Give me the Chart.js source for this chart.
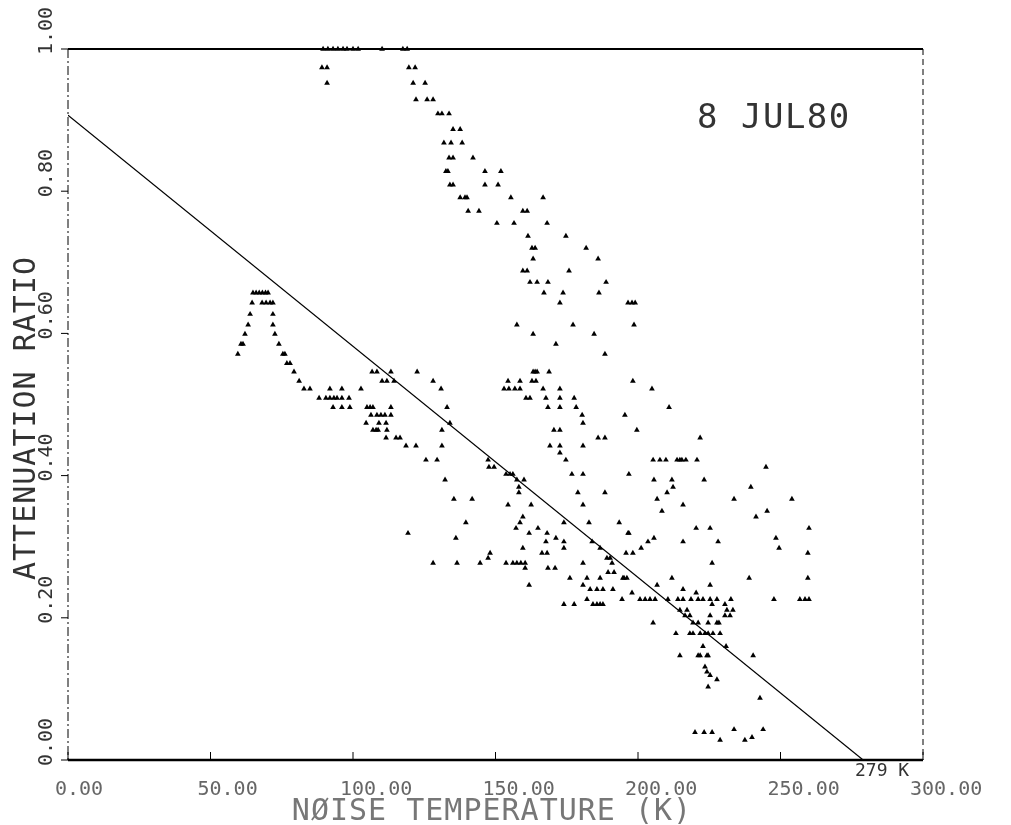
<!DOCTYPE html>
<html>
<head>
<meta charset="utf-8">
<script src="https://cdn.jsdelivr.net/npm/chart.js@4.4.1/dist/chart.umd.min.js"></script>
<style>
  body { margin: 0; background: #fff; }
  #wrap { width: 1011px; height: 825px; }
</style>
</head>
<body>
<div id="wrap"><canvas id="myChart" width="1011" height="825"></canvas></div>
<script>
// attenuation ratio levels and the noise temperatures (K) observed at each level
const ratioLevels = [
  1.000, 0.974, 0.952, 0.929, 0.909, 0.887, 0.868, 0.847, 0.828, 0.809,
  0.791, 0.772, 0.755, 0.737, 0.720, 0.705, 0.688, 0.672, 0.657, 0.643,
  0.627, 0.612, 0.599, 0.585, 0.571, 0.558, 0.546, 0.533, 0.522, 0.509,
  0.496, 0.485, 0.474, 0.464, 0.453, 0.442, 0.432, 0.422, 0.412, 0.402,
  0.394, 0.384, 0.376, 0.367, 0.359, 0.350, 0.342, 0.334, 0.326, 0.319,
  0.312, 0.307, 0.298, 0.291, 0.284, 0.277, 0.270, 0.264, 0.256, 0.246,
  0.240, 0.235, 0.226, 0.219, 0.211, 0.203, 0.193, 0.178, 0.160, 0.147,
  0.131, 0.124, 0.119, 0.113, 0.103, 0.087, 0.043, 0.039, 0.032, 0.028
];
const tempsByLevel = [
  [89.5, 91.2, 93.0, 94.7, 96.5, 97.9, 100.0, 101.8, 110.2, 117.5, 119.0],
  [89.1, 90.9, 119.6, 121.8],
  [90.9, 121.1, 125.3],
  [122.1, 126.0, 128.1],
  [129.8, 131.2, 133.7],
  [135.1, 137.6],
  [131.9, 134.4, 138.3],
  [133.7, 135.1, 142.1],
  [132.6, 133.3, 146.3, 151.9],
  [134.0, 135.1, 146.3, 150.9],
  [137.6, 139.3, 140.0, 155.4, 166.7],
  [140.4, 144.2, 159.6, 161.1],
  [150.5, 156.5, 168.1],
  [161.4, 174.7],
  [162.8, 163.9, 181.8],
  [163.2, 186.0],
  [159.6, 161.1, 175.8],
  [162.1, 164.6, 168.4, 188.8],
  [64.9, 66.0, 67.1, 68.2, 69.3, 70.2, 167.0, 173.7, 186.3],
  [64.6, 68.1, 69.5, 70.9, 71.9, 172.6, 196.5, 197.9, 199.0],
  [63.9, 71.9],
  [63.2, 71.9, 157.5, 177.2, 198.6],
  [62.1, 72.6, 163.2, 184.6],
  [60.7, 61.4, 74.0, 171.2],
  [59.6, 75.4, 76.1, 188.4],
  [76.8, 77.9],
  [79.3, 106.7, 108.4, 113.3, 122.5, 163.2, 163.9, 164.6, 168.8],
  [81.1, 110.2, 111.9, 114.4, 128.1, 154.4, 158.6, 162.8, 164.2, 198.2],
  [82.8, 84.9, 91.9, 96.1, 102.8, 130.9, 153.0, 154.7, 156.8, 158.6, 166.7, 172.6, 204.9],
  [88.1, 90.5, 91.9, 93.3, 94.4, 96.1, 98.6, 160.7, 162.1, 167.7, 172.6, 177.6],
  [93.0, 96.1, 98.9, 104.9, 106.0, 107.0, 113.3, 133.0, 168.4, 172.6, 178.3, 210.9],
  [106.3, 108.4, 109.8, 111.2, 113.3, 180.4, 195.4],
  [104.6, 109.1, 111.6, 134.0, 180.7],
  [107.0, 108.1, 108.8, 111.9, 131.2, 170.5, 172.6, 199.6],
  [111.6, 115.1, 116.5, 186.0, 188.4, 221.8],
  [118.6, 122.1, 131.2, 169.1, 172.6, 180.7],
  [172.6],
  [125.6, 129.5, 147.4, 174.7, 205.3, 207.7, 209.8, 213.7, 214.7, 215.4, 216.8, 220.7],
  [147.7, 149.5, 244.9],
  [153.7, 155.1, 156.1, 176.8, 180.7, 196.8],
  [132.3, 157.5, 160.0, 205.6, 211.9, 223.2],
  [158.2, 212.3, 239.6],
  [158.2, 178.9, 188.4, 210.2],
  [135.4, 141.8, 206.7, 233.7, 254.0],
  [154.4, 162.5, 180.7, 215.8],
  [208.4, 245.3],
  [159.6, 241.4],
  [139.6, 158.6, 174.0, 182.8, 193.4],
  [157.2, 164.9, 220.4, 225.3, 260.0],
  [119.3, 161.8, 168.1, 196.5, 196.8],
  [136.1, 171.2, 205.6, 248.4],
  [167.7, 174.0, 183.9, 203.5, 215.8, 228.1],
  [159.6, 174.0, 186.7, 201.1, 249.5],
  [148.1, 166.3, 168.1, 195.8, 198.2, 259.6],
  [147.4, 189.1, 190.2],
  [128.1, 136.5, 144.6, 153.7, 156.1, 157.5, 158.9, 160.4, 180.7, 190.9, 226.0],
  [160.4, 168.4, 170.9],
  [189.5, 191.6],
  [176.1, 182.1, 186.7, 194.7, 195.1, 196.1, 211.9, 239.0, 259.6],
  [161.8, 180.7, 206.7, 225.3],
  [183.2, 185.6, 187.7, 191.2, 215.8],
  [197.9, 220.4],
  [182.1, 194.4, 200.7, 202.5, 204.2, 206.0, 210.5, 214.0, 215.8, 218.6, 221.1, 222.8, 225.3, 227.7, 232.6, 247.7, 256.8, 258.6, 260.0],
  [174.0, 177.6, 184.2, 185.6, 186.7, 187.7, 226.0, 230.5],
  [214.7, 217.2, 231.2, 233.3],
  [216.5, 218.2, 225.3, 230.5, 232.3],
  [205.3, 219.3, 221.1, 224.6, 227.7, 228.4],
  [213.3, 218.2, 219.3, 221.8, 223.5, 224.6, 226.3, 228.8],
  [222.8, 230.9],
  [214.7, 221.1, 221.8, 224.2, 224.6, 240.4],
  [223.5],
  [224.2],
  [225.3],
  [227.7],
  [224.6],
  [242.8],
  [233.7, 243.9],
  [220.0, 223.2, 226.0],
  [240.0],
  [228.8, 237.5]
];

// fitted line: ratio falls to zero at 279 K
const fitTemp = [0, 279];
const fitRatio = [0.907, 0];

const xTicks = [0, 50, 100, 150, 200, 250, 300];
const yTicks = [0, 0.2, 0.4, 0.6, 0.8, 1.0];

const points = ratioLevels.flatMap((r, i) => tempsByLevel[i].map(t => ({ x: t, y: r })));
const fitLine = fitTemp.map((t, i) => ({ x: t, y: fitRatio[i] }));

const FONT = '"DejaVu Sans Mono", monospace';

const plotterFrame = {
  id: 'plotterFrame',
  afterDraw(chart) {
    const { ctx, chartArea: a, scales: { x, y } } = chart;
    ctx.save();
    ctx.strokeStyle = '#000';

    const seg = (x1, y1, x2, y2) => { ctx.beginPath(); ctx.moveTo(x1, y1); ctx.lineTo(x2, y2); ctx.stroke(); };

    // frame
    ctx.lineWidth = 2;
    seg(a.left, a.top, a.right, a.top);
    ctx.lineWidth = 2.5;
    seg(a.left, a.bottom, a.right, a.bottom);
    ctx.lineWidth = 1;
    ctx.setLineDash([9, 3, 2, 3]);
    seg(a.left, a.top, a.left, a.bottom);
    ctx.setLineDash([6, 4]);
    seg(a.right, a.top, a.right, a.bottom);
    ctx.setLineDash([]);

    // tick marks
    ctx.lineWidth = 1;
    yTicks.forEach(v => { const py = y.getPixelForValue(v); seg(a.left - 7, py, a.left, py); });
    xTicks.forEach(v => { const px = x.getPixelForValue(v); seg(px, a.bottom - 8, px, a.bottom); });

    // x tick labels
    ctx.fillStyle = '#666';
    ctx.font = '20px ' + FONT;
    ctx.textAlign = 'left';
    ctx.textBaseline = 'alphabetic';
    xTicks.forEach(v => {
      ctx.fillText(v.toFixed(2), x.getPixelForValue(v) - 13, 795);
    });

    // y tick labels (rotated)
    ctx.fillStyle = '#333';
    yTicks.forEach(v => {
      ctx.save();
      ctx.translate(52, y.getPixelForValue(v) + 6);
      ctx.rotate(-Math.PI / 2);
      ctx.fillText(v.toFixed(2), 0, 0);
      ctx.restore();
    });

    // axis titles
    ctx.save();
    ctx.font = '30px ' + FONT;
    ctx.letterSpacing = '1px';
    ctx.fillStyle = '#333';
    ctx.translate(35, 418);
    ctx.rotate(-Math.PI / 2);
    ctx.textAlign = 'center';
    ctx.fillText('ATTENUATION RATIO', 0, 0);
    ctx.restore();

    ctx.save();
    ctx.font = '30px ' + FONT;
    ctx.letterSpacing = '1px';
    ctx.fillStyle = '#777';
    ctx.textAlign = 'center';
    ctx.fillText('NØISE TEMPERATURE (K)', 492, 820);
    ctx.restore();

    // annotations
    ctx.save();
    ctx.fillStyle = '#333';
    ctx.font = '34px ' + FONT;
    ctx.letterSpacing = '1.5px';
    ctx.textAlign = 'left';
    ctx.fillText('8 JUL80', 697, 128);
    ctx.font = '18px ' + FONT;
    ctx.letterSpacing = '0px';
    ctx.fillText('279 K', 855, 776);
    ctx.restore();

    ctx.restore();
  }
};

const config = {
  type: 'scatter',
  data: {
    datasets: [
      {
        label: 'obs',
        data: points,
        pointStyle: 'triangle',
        pointRadius: 3.3,
        backgroundColor: '#000',
        borderColor: '#000',
        borderWidth: 0,
        clip: false
      },
      {
        label: 'fit',
        data: fitLine,
        showLine: true,
        pointRadius: 0,
        borderColor: '#000',
        borderWidth: 1.2
      }
    ]
  },
  options: {
    responsive: false,
    animation: false,
    devicePixelRatio: 1,
    layout: { padding: { top: 49, right: 88, left: 0, bottom: 0 } },
    plugins: { legend: { display: false }, tooltip: { enabled: false } },
    scales: {
      x: {
        type: 'linear', min: 0, max: 300,
        grid: { display: false }, border: { display: false },
        ticks: { display: false },
        afterFit: s => { s.height = 65; }
      },
      y: {
        type: 'linear', min: 0, max: 1,
        grid: { display: false }, border: { display: false },
        ticks: { display: false },
        afterFit: s => { s.width = 68; }
      }
    }
  },
  plugins: [plotterFrame]
};

const myChart = new Chart(document.getElementById('myChart'), config);
</script>
</body>
</html>
